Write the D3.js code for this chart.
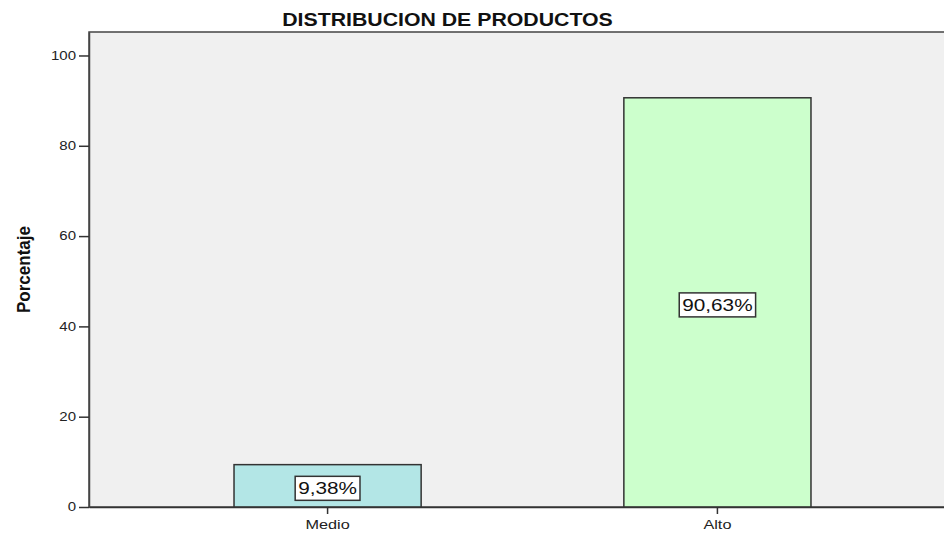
<!DOCTYPE html>
<html>
<head>
<meta charset="utf-8">
<script src="https://cdn.jsdelivr.net/npm/d3@7"></script>
<style>
  body { margin: 0; background: #fff; }
  svg { display: block; font-family: Arial, "Liberation Sans", sans-serif; }
</style>
</head>
<body>
<div id="chart"></div>
<script>
// Data
const categories = ["Medio", "Alto"];
const percentages = [9.38, 90.63];
const barLabels = ["9,38%", "90,63%"];
const yTicks = [0, 20, 40, 60, 80, 100];
const barColors = ["#b3e6e6", "#ccffcc"];

const width = 944, height = 534;
const margin = { top: 32, left: 89, bottom: 27 };
const plotRight = 956; // plot area runs past the window edge

// widen glyphs horizontally (source render uses wide text)
function stretch(sel, f) {
  sel.each(function () {
    const len = this.getComputedTextLength();
    d3.select(this)
      .attr("textLength", len * f)
      .attr("lengthAdjust", "spacingAndGlyphs");
  });
}

const svg = d3.select("#chart")
  .append("svg")
  .attr("width", width)
  .attr("height", height);

const y = d3.scaleLinear()
  .domain([0, 105.2])
  .range([height - margin.bottom, margin.top]);

const x = d3.scaleBand()
  .domain(categories)
  .range([margin.left, plotRight])
  .paddingInner(0.52)
  .paddingOuter(0.372);

// plot background
svg.append("rect")
  .attr("x", margin.left)
  .attr("y", margin.top)
  .attr("width", plotRight - margin.left)
  .attr("height", y(0) - margin.top)
  .attr("fill", "#f0f0f0")
  .attr("stroke", "#444")
  .attr("stroke-width", 1.5);

// title
svg.append("text")
  .attr("x", 447.5)
  .attr("y", 26)
  .attr("text-anchor", "middle")
  .style("font-size", "19px")
  .style("font-weight", "bold")
  .attr("fill", "#111")
  .text("DISTRIBUCION DE PRODUCTOS")
  .call(stretch, 1.12);

// bars
svg.append("g")
  .selectAll("rect")
  .data(percentages)
  .enter()
  .append("rect")
    .attr("x", (d, i) => x(categories[i]))
    .attr("y", d => y(d))
    .attr("width", x.bandwidth())
    .attr("height", d => y(0) - y(d))
    .attr("fill", (d, i) => barColors[i])
    .attr("stroke", "#333")
    .attr("stroke-width", 1.5);

// y axis
const yAxis = svg.append("g")
  .attr("transform", `translate(${margin.left},0)`)
  .call(d3.axisLeft(y).tickValues(yTicks).tickSize(10).tickPadding(3).tickSizeOuter(0));
yAxis.select(".domain").attr("stroke", "#444").attr("stroke-width", 1.5);
yAxis.selectAll(".tick line").attr("stroke", "#333").attr("stroke-width", 1.5);
yAxis.selectAll(".tick text")
  .style("font-size", "12px")
  .attr("fill", "#222")
  .call(stretch, 1.25);

// x axis
const xAxis = svg.append("g")
  .attr("transform", `translate(0,${y(0)})`)
  .call(d3.axisBottom(x).tickSize(7).tickPadding(6).tickSizeOuter(0));
xAxis.select(".domain").attr("stroke", "#333").attr("stroke-width", 1.5);
xAxis.selectAll(".tick line").attr("stroke", "#333").attr("stroke-width", 1.5);
xAxis.selectAll(".tick text")
  .style("font-size", "13px")
  .attr("fill", "#222")
  .call(stretch, 1.25);

// y axis title
svg.append("text")
  .attr("transform", `translate(30,269.5) rotate(-90)`)
  .attr("text-anchor", "middle")
  .attr("textLength", 87)
  .attr("lengthAdjust", "spacingAndGlyphs")
  .style("font-size", "18px")
  .style("font-weight", "bold")
  .attr("fill", "#111")
  .text("Porcentaje");

// value labels in boxes
const labels = svg.append("g")
  .selectAll("g")
  .data(percentages)
  .enter()
  .append("g")
  .attr("transform", (d, i) =>
    `translate(${x(categories[i]) + x.bandwidth() / 2},${(y(d) + y(0)) / 2 + 2.5})`);

labels.append("text")
  .attr("text-anchor", "middle")
  .attr("dy", "0.36em")
  .style("font-size", "17px")
  .attr("fill", "#111")
  .text((d, i) => barLabels[i])
  .call(stretch, 1.22)
  .each(function () {
    const w = +this.getAttribute("textLength") + 6;
    d3.select(this.parentNode).insert("rect", "text")
      .attr("x", -w / 2)
      .attr("y", -12)
      .attr("width", w)
      .attr("height", 24)
      .attr("fill", "#fff")
      .attr("stroke", "#333")
      .attr("stroke-width", 1.5);
  });
</script>
</body>
</html>
